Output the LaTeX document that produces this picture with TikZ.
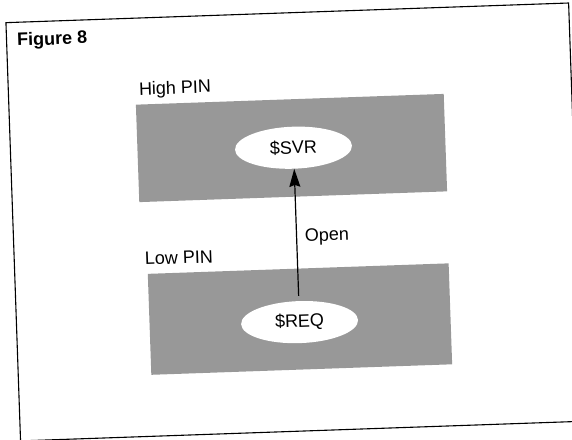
\documentclass[tikz,border=0pt]{standalone}
\usepackage{fontspec}
\setmainfont{Liberation Sans}
\usetikzlibrary{shapes.geometric,arrows.meta}
\definecolor{screen}{RGB}{152,152,152}
\begin{document}
\begin{tikzpicture}[x=1pt,y=-1pt,
  txt/.style={font=\fontsize{18}{20}\selectfont},
  caption/.style={txt,anchor=base west,inner sep=0pt},
  band/.style={rectangle,fill=screen,draw=none,inner sep=0pt},
  process/.style={txt,ellipse,fill=white,draw=none,inner sep=0pt,
    minimum width=117pt,minimum height=42pt},
  call/.style={line width=1.2pt,shorten <=5pt,
    -{Stealth[length=18pt,width=11pt,inset=2pt]}}]
\useasboundingbox (0,0) rectangle (572,439);
\clip (0,0) rectangle (572,439);
\begin{scope}[rotate around={2:(286,220)},transform shape]
  % outer frame
  \draw[line width=1.1pt] (13,13) rectangle (576,431.5);
  \node[caption,font=\bfseries\fontsize{18}{20}\selectfont] (title) at (23.5,36.7) {Figure 8};
  % priority levels
  \node[band,minimum width=308pt,minimum height=97.5pt] (high) at (294,148.25) {};
  \node[band,minimum width=301pt,minimum height=101pt] (low) at (296.5,319.5) {};
  \node[caption] (highlbl) at (143.5,90) {High PIN};
  \node[caption] (lowlbl) at (143.5,260) {Low PIN};
  % processes
  \node[process] (svr) at (296,148) {\$SVR};
  \node[process] (req) at (296,322.5) {\$REQ};
  \draw[call] (req.north) -- (svr.south);
  \node[caption] (open) at (304.2,242.3) {Open};
\end{scope}
\end{tikzpicture}
\end{document}
